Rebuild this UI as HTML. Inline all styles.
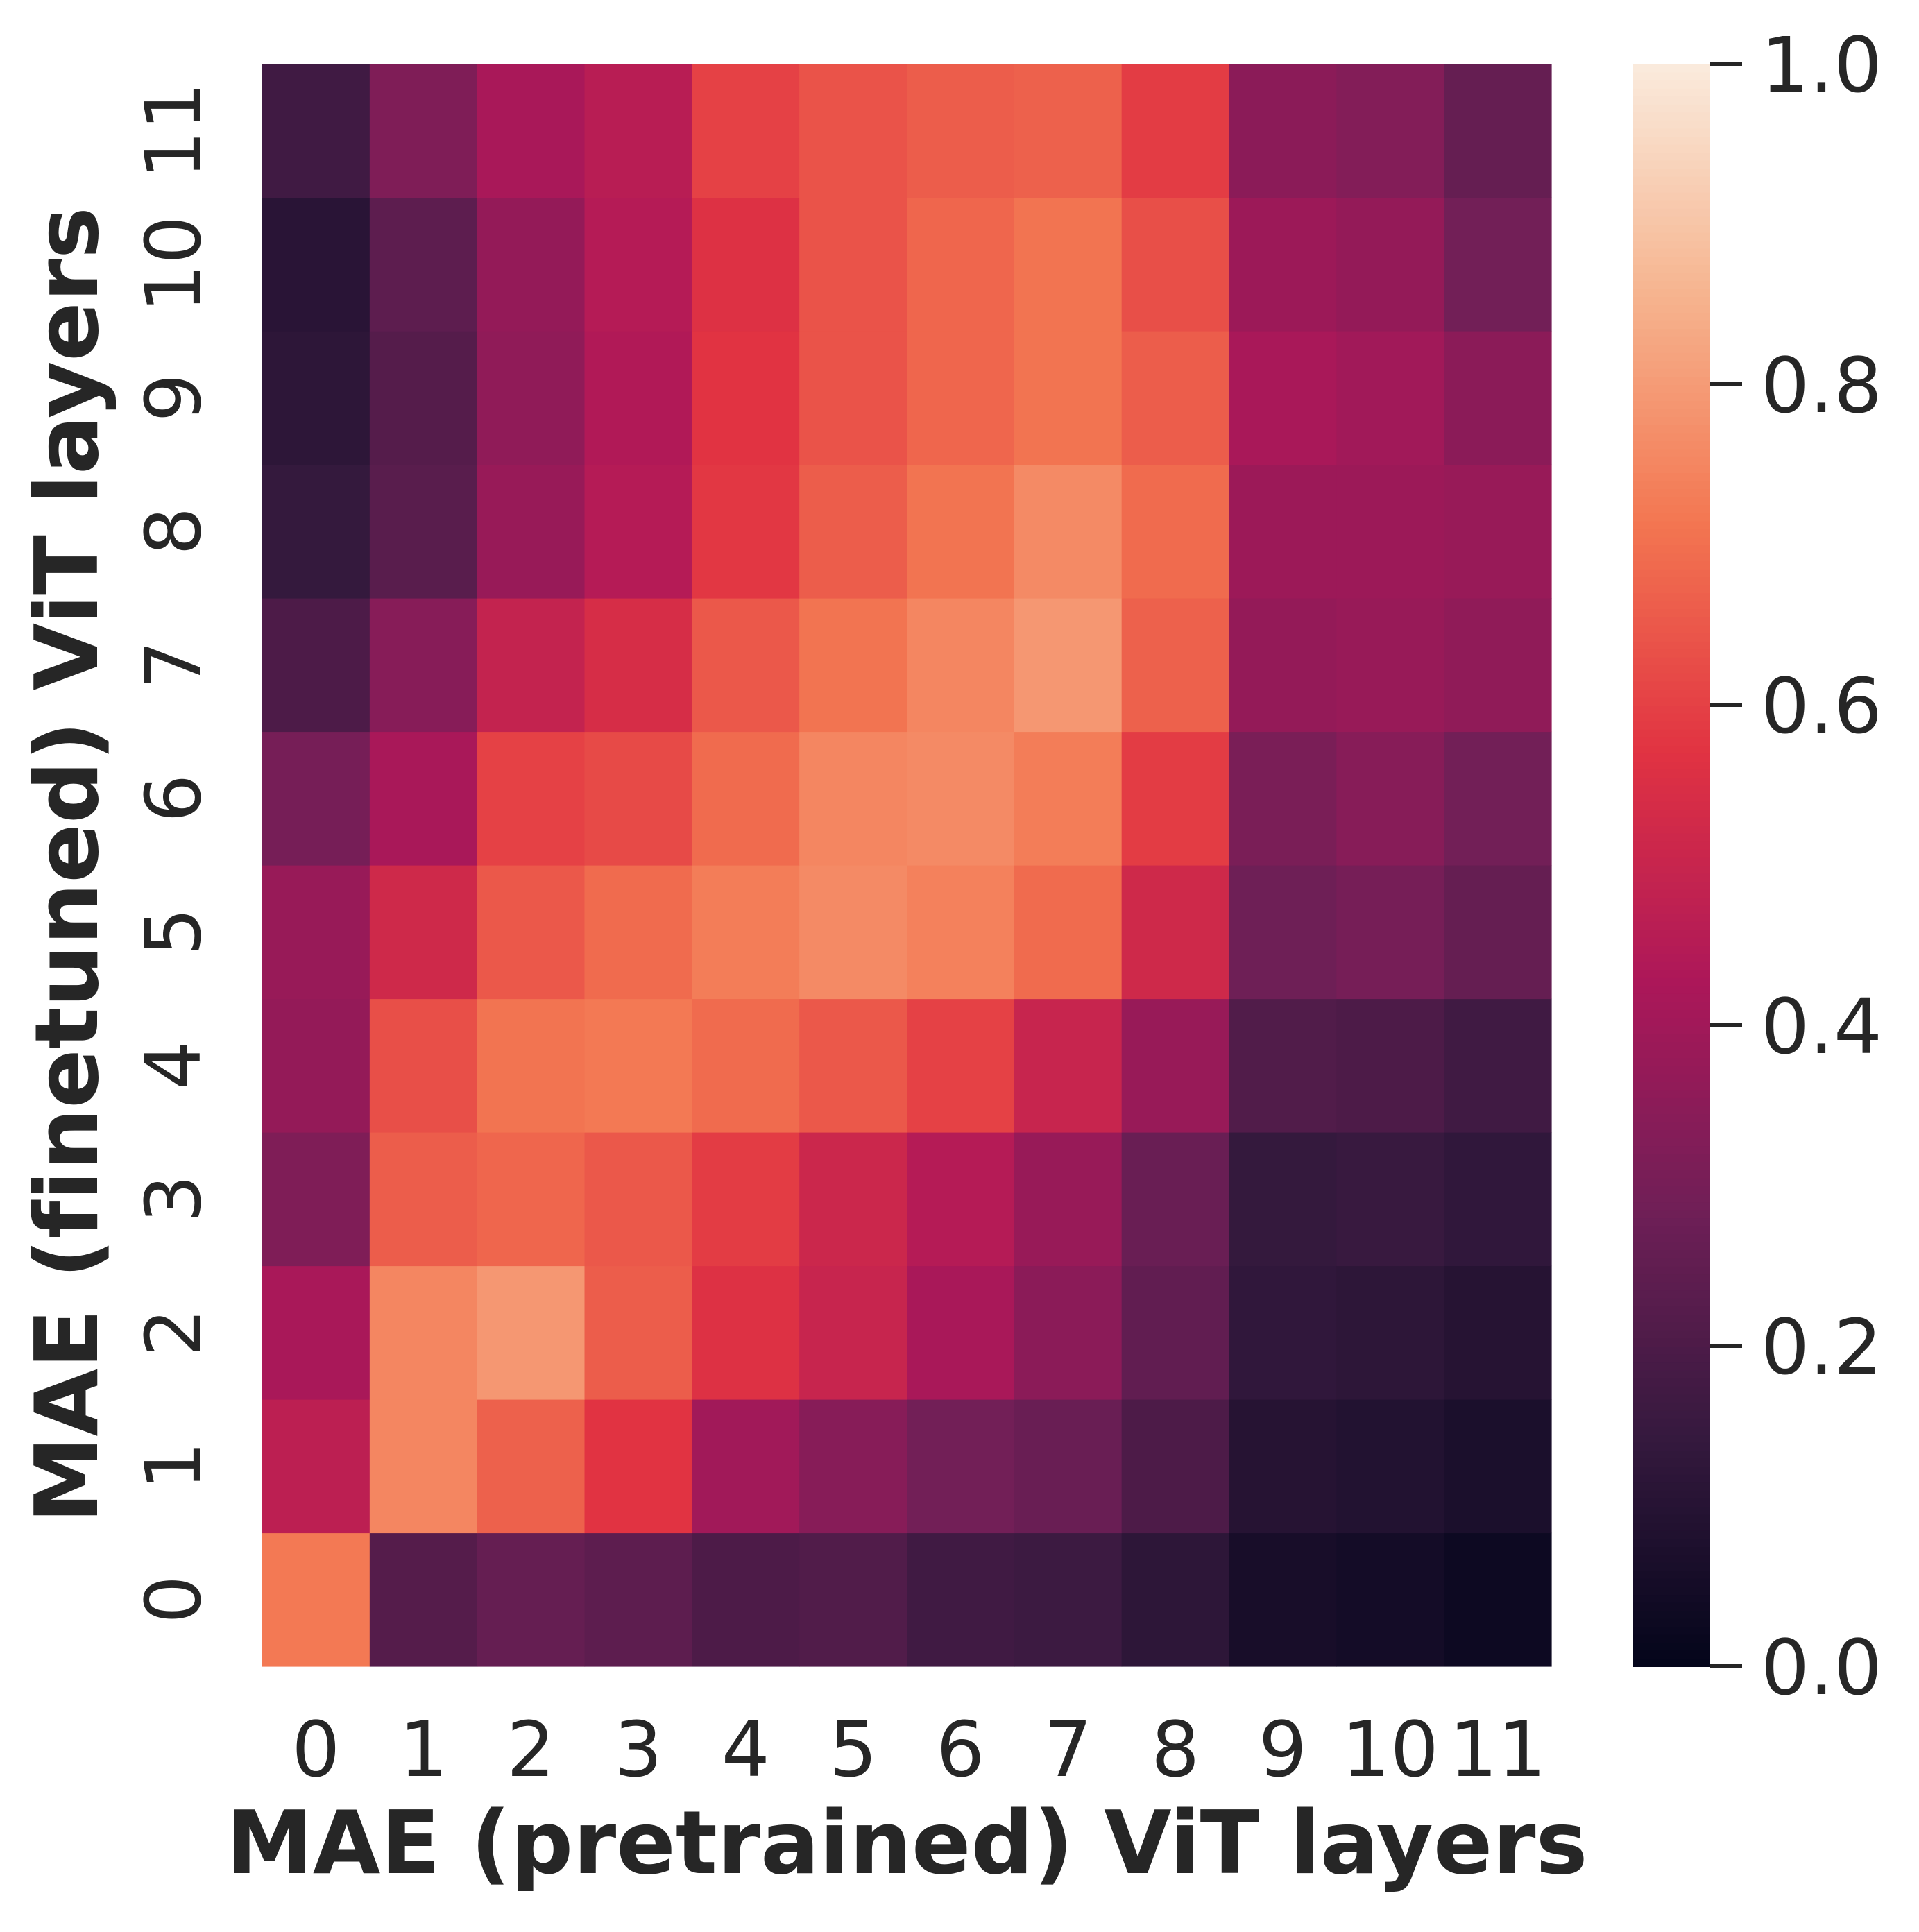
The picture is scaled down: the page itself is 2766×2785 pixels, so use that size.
<!DOCTYPE html>
<html><head><meta charset="utf-8"><style>body{margin:0;background:#fff}svg text{font-family:"DejaVu Sans","Liberation Sans",sans-serif;fill:#262626;font-variant-ligatures:none}</style></head>
<body>
<svg id="chart" width="2766" height="2780" xmlns="http://www.w3.org/2000/svg">
<g id="cells"></g>
<g id="cbar"></g>
<g id="ticks"></g>
<text x="1307" y="2700" font-size="126" font-weight="bold" text-anchor="middle">MAE (pretrained) ViT layers</text>
<text transform="translate(140,1247) rotate(-90)" font-size="126" font-weight="bold" text-anchor="middle">MAE (finetuned) ViT layers</text>
</svg>
<script>
const xCategories=[0,1,2,3,4,5,6,7,8,9,10,11];
const yCategories=[0,1,2,3,4,5,6,7,8,9,10,11];
const row0=[0.72,0.22,0.26,0.24,0.2,0.21,0.17,0.16,0.12,0.06,0.05,0.03];
const row1=[0.47,0.75,0.67,0.57,0.4,0.34,0.29,0.27,0.2,0.1,0.09,0.07];
const row2=[0.42,0.75,0.79,0.66,0.56,0.5,0.42,0.35,0.25,0.13,0.12,0.1];
const row3=[0.32,0.66,0.68,0.65,0.59,0.51,0.45,0.38,0.27,0.14,0.15,0.13];
const row4=[0.37,0.63,0.71,0.72,0.69,0.65,0.6,0.5,0.38,0.21,0.2,0.17];
const row5=[0.38,0.52,0.65,0.69,0.73,0.76,0.74,0.69,0.52,0.28,0.3,0.26];
const row6=[0.3,0.42,0.6,0.62,0.69,0.75,0.76,0.73,0.59,0.31,0.34,0.29];
const row7=[0.2,0.34,0.49,0.54,0.65,0.71,0.75,0.79,0.67,0.37,0.38,0.36];
const row8=[0.14,0.23,0.38,0.45,0.58,0.66,0.71,0.76,0.69,0.39,0.39,0.38];
const row9=[0.12,0.22,0.36,0.44,0.57,0.64,0.68,0.71,0.66,0.42,0.4,0.35];
const row10=[0.11,0.24,0.37,0.45,0.56,0.64,0.68,0.71,0.63,0.39,0.37,0.29];
const row11=[0.17,0.32,0.42,0.46,0.6,0.64,0.66,0.67,0.59,0.35,0.33,0.26];
const values=[row0,row1,row2,row3,row4,row5,row6,row7,row8,row9,row10,row11];
const cbarTicks=[0,0.2,0.4,0.6,0.8,1.0];
const cbarLabels=["0.0","0.2","0.4","0.6","0.8","1.0"];

const NS="http://www.w3.org/2000/svg";
const X0=378,X1=2236,Y0=92,Y1=2402;
const cw=(X1-X0)/xCategories.length, ch=(Y1-Y0)/yCategories.length;
const xs=i=>X0+i*cw;
const ys=j=>Y1-(j+1)*ch;
const stops=[[0,[3,5,26]],[0.143,[53,25,62]],[0.286,[112,31,87]],[0.429,[173,23,89]],[0.571,[225,51,66]],[0.714,[243,118,81]],[0.857,[246,180,143]],[1,[250,235,221]]];
function cmap(v){v=Math.max(0,Math.min(1,v));for(let k=1;k<stops.length;k++){if(v<=stops[k][0]){const[a,ca]=stops[k-1],[b,cb]=stops[k];const t=(v-a)/(b-a);return 'rgb('+ca.map((c,i)=>Math.round(c+(cb[i]-c)*t)).join(',')+')';}}return 'rgb(250,235,221)';}
function mk(tag,attrs,parent){const e=document.createElementNS(NS,tag);for(const k in attrs)e.setAttribute(k,attrs[k]);parent.appendChild(e);return e;}
const cells=document.getElementById('cells');
values.forEach((row,j)=>row.forEach((v,i)=>{
 const r=mk('rect',{x:xs(i),y:ys(j),width:cw+0.6,height:ch+0.6,fill:cmap(v)},cells);
 
 
}));
const ticks=document.getElementById('ticks');
xCategories.forEach((c,i)=>{
 const t=mk('text',{x:xs(i)+cw/2,y:2560,'font-size':110,'text-anchor':'middle'},ticks);t.textContent=c;
 
 
});
yCategories.forEach((c,j)=>{
 const t=mk('text',{transform:'translate(288,'+(ys(j)+ch/2)+') rotate(-90)','font-size':110,'text-anchor':'middle'},ticks);t.textContent=c;
 
 
});
const cb=document.getElementById('cbar');
const CX0=2354,CX1=2465,CN=200;
for(let k=0;k<CN;k++){const v0=k/CN;const y=Y1-(k+1)*(Y1-Y0)/CN;
 const r=mk('rect',{x:CX0,y:y,width:CX1-CX0,height:(Y1-Y0)/CN+1,fill:cmap(v0+0.5/CN)},cb);
 
 
}
cbarTicks.forEach((v,k)=>{const y=Y1-v*(Y1-Y0);
 const l=mk('line',{x1:CX1,x2:CX1+46,y1:y,y2:y,stroke:'#262626','stroke-width':6},cb);
 
 
 const t=mk('text',{x:2538,y:y+40,'font-size':110},cb);t.textContent=cbarLabels[k];
 
 
});
</script>
</body></html>
